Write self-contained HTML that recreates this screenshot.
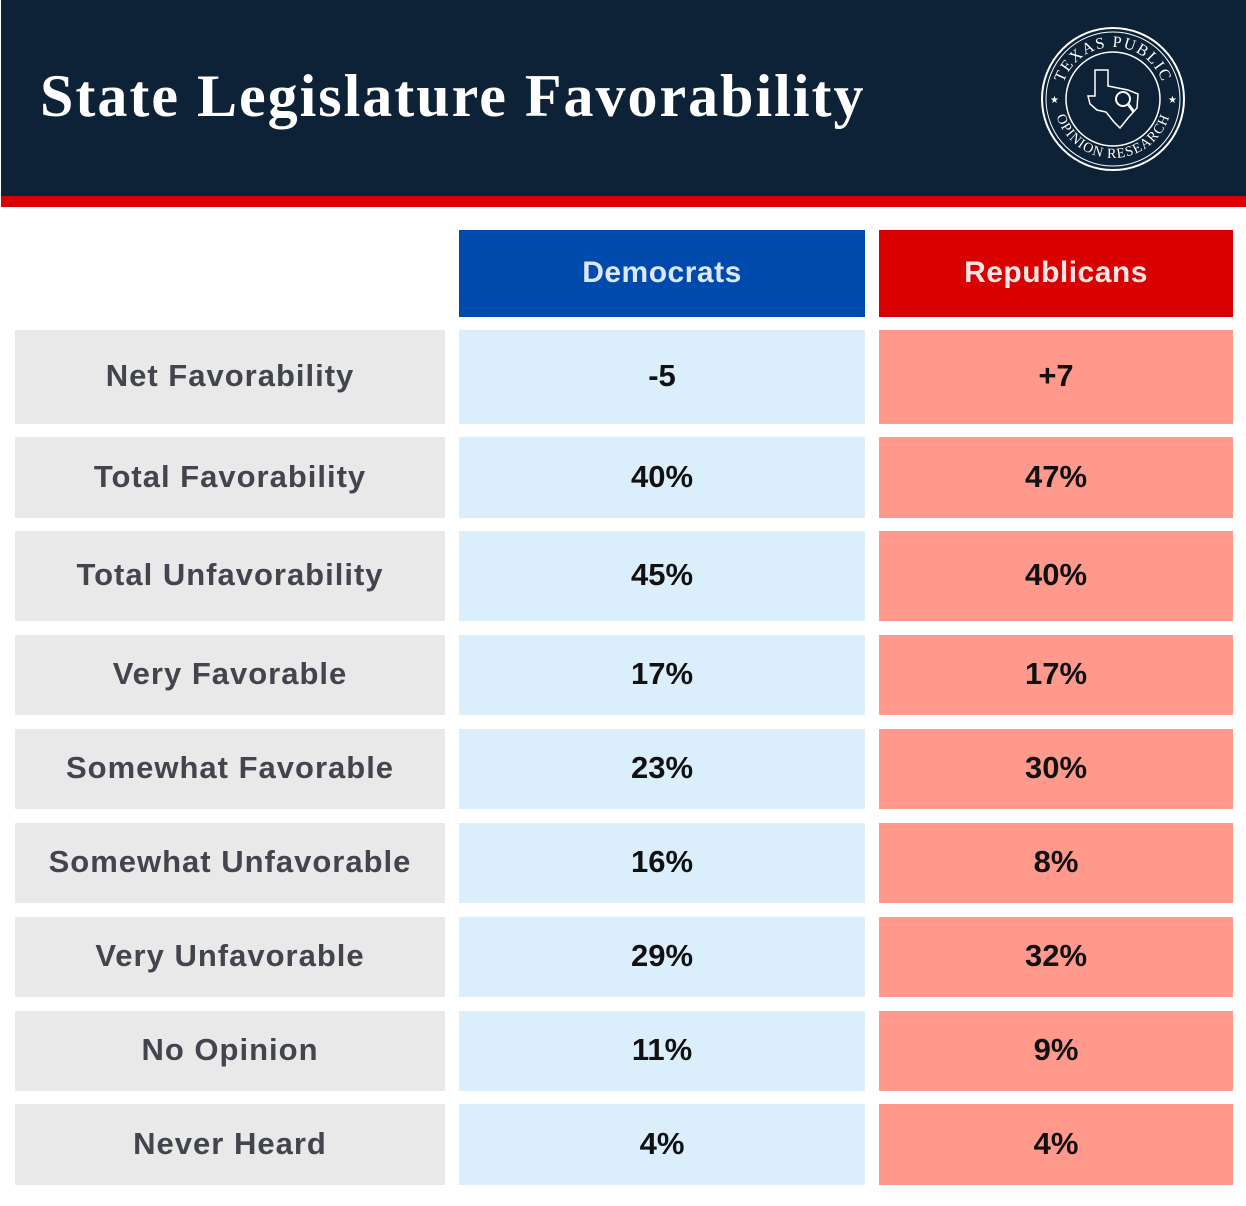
<!DOCTYPE html>
<html><head><meta charset="utf-8"><style>
body{margin:0;width:1246px;height:1206px;background:#fff;position:relative;overflow:hidden;font-family:"Liberation Sans",sans-serif}
#hdr{position:absolute;left:1px;top:0;width:1245px;height:196px;background:#0d2236}
#stripe{position:absolute;left:1px;top:196px;width:1245px;height:11px;background:#d80000}
#title{position:absolute;left:40px;top:62px;font-family:"Liberation Serif",serif;font-weight:bold;font-size:60px;color:#fff;letter-spacing:2px}
.c{position:absolute;display:flex;align-items:center;justify-content:center;font-weight:bold;font-size:31px;padding-bottom:2px;box-sizing:border-box}
.lab{background:#e9e9e9;color:#42454d;left:15px;width:430px;letter-spacing:1px}
.dem{background:#dbeefc;color:#111;left:459px;width:406px}
.rep{background:#fe998c;color:#111;left:879px;width:354px}
</style></head><body>
<div id="hdr"></div>
<div id="stripe"></div>
<div id="title">State Legislature Favorability</div>
<svg style="position:absolute;left:1040px;top:26px" width="146" height="146" viewBox="0 0 146 146">
<defs><path id="tp" d="M21,73 A52,52 0 0 1 125,73"/><path id="bp" d="M14,73 A59,59 0 0 0 132,73"/></defs>
<circle cx="73" cy="73" r="71" fill="none" stroke="#fff" stroke-width="2"/>
<circle cx="73" cy="73" r="67" fill="none" stroke="#fff" stroke-width="1"/>
<circle cx="73" cy="73" r="47" fill="none" stroke="#fff" stroke-width="1.5"/>
<text font-family="Liberation Serif,serif" font-size="16" fill="#fff" letter-spacing="1.5"><textPath href="#tp" startOffset="50%" text-anchor="middle">TEXAS PUBLIC</textPath></text>
<text font-family="Liberation Serif,serif" font-size="14" fill="#fff" letter-spacing="1"><textPath href="#bp" startOffset="50%" text-anchor="middle">OPINION RESEARCH</textPath></text>
<text x="10" y="77" font-size="10" fill="#fff">★</text><text x="128" y="77" font-size="10" fill="#fff">★</text>
<path d="M55,44 L68,44 L68,60 L88,64 L98,68 L97,82 L88,92 L80,102 L74,96 L66,86 L57,84 L50,78 L48,70 L55,70 Z" fill="none" stroke="#fff" stroke-width="1.5"/>
<circle cx="83" cy="73" r="7" fill="none" stroke="#fff" stroke-width="2"/><line x1="88" y1="78" x2="94" y2="86" stroke="#fff" stroke-width="3"/>
</svg>
<div class="c" style="left:459px;width:406px;top:230px;height:87px;background:#004aad;color:#dde8ff;font-size:30px;letter-spacing:0.5px">Democrats</div>
<div class="c" style="left:879px;width:354px;top:230px;height:87px;background:#d80000;color:#ffe4e4;font-size:30px;letter-spacing:0.5px">Republicans</div>
<script>
const categories=["Net Favorability","Total Favorability","Total Unfavorability","Very Favorable","Somewhat Favorable","Somewhat Unfavorable","Very Unfavorable","No Opinion","Never Heard"];
const demValues=["-5","40%","45%","17%","23%","16%","29%","11%","4%"];
const repValues=["+7","47%","40%","17%","30%","8%","32%","9%","4%"];
const rowTops=[330,437,531,635,729,823,917,1011,1104];
const rowBots=[424,518,621,715,809,903,997,1091,1185];
categories.forEach((cat,i)=>{
  const t=rowTops[i],h=rowBots[i]-t;
  [[cat,'lab'],[demValues[i],'dem'],[repValues[i],'rep']].forEach(([txt,cls])=>{
    const d=document.createElement('div');
    d.className='c '+cls;
    d.style.top=t+'px';d.style.height=h+'px';
    d.textContent=txt;
    
    
    document.body.appendChild(d);
  });
});
</script>
</body></html>
